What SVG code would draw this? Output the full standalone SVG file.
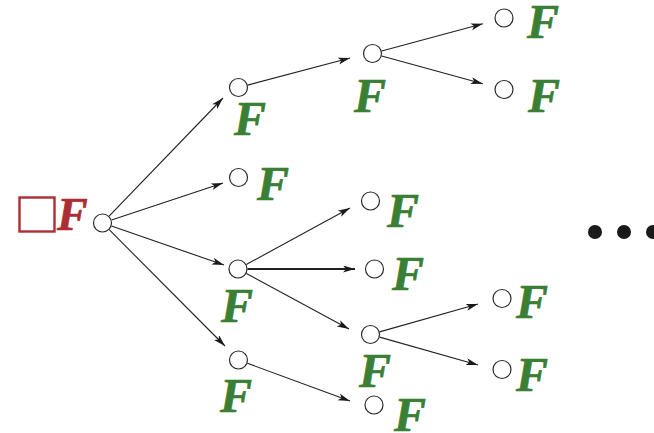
<svg xmlns="http://www.w3.org/2000/svg" width="654" height="433" viewBox="0 0 654 433">
  <style>
    .node { fill: #ffffff; stroke: #2a2a2a; stroke-width: 1.2; }
    .edge { stroke: #222222; stroke-width: 1.1; fill: none; marker-end: url(#arrow); }
    .edge.thick { stroke-width: 2.2; }
    .lbl { font-family: "Liberation Serif", "Times New Roman", serif; font-weight: bold; font-style: italic; font-size: 48px; fill: #3a7f34; stroke: #3a7f34; stroke-width: 0.7; }
    .root-lbl { fill: #ab2e34; stroke: #ab2e34; font-size: 46px; }
    .dot { fill: #1a1a1a; }
  </style>
  <defs>
    <marker id="arrow" markerUnits="userSpaceOnUse" markerWidth="12" markerHeight="8" refX="12" refY="3.5" orient="auto">
      <path d="M0,0 L12,3.5 L0,7 L3,3.5 z" fill="#1a1a1a"/>
    </marker>
  </defs>

  <rect x="0" y="0" width="654" height="433" fill="#ffffff"/>

  <g id="connectors">
    <line class="edge" x1="109.1" y1="216.2" x2="223" y2="98"/>
    <line class="edge" x1="111.5" y1="220" x2="223" y2="183"/>
    <line class="edge" x1="111.5" y1="226.1" x2="224" y2="265"/>
    <line class="edge" x1="109.2" y1="229.7" x2="225" y2="346"/>
    <line class="edge" x1="247.7" y1="85.1" x2="350" y2="58"/>
    <line class="edge" x1="381.7" y1="51" x2="482.8" y2="23.7"/>
    <line class="edge" x1="381.7" y1="56" x2="482.8" y2="83.7"/>
    <line class="edge" x1="246.3" y1="264.5" x2="350" y2="208"/>
    <line class="edge thick" x1="247.5" y1="269" x2="355" y2="269"/>
    <line class="edge" x1="246.4" y1="273.5" x2="349" y2="329"/>
    <line class="edge" x1="247.4" y1="363.3" x2="350" y2="401"/>
    <line class="edge" x1="379.6" y1="331.9" x2="478" y2="304"/>
    <line class="edge" x1="379.6" y1="337.1" x2="478" y2="365"/>
  </g>

  <g id="root">
    <rect x="19.5" y="197.5" width="35" height="34" fill="none" stroke="#ab2e34" stroke-width="2.4"/>
    <text class="lbl root-lbl" x="57" y="230">F</text>
    <circle class="node" cx="102.5" cy="223" r="9"/>
  </g>

  <g id="n-a">
    <circle class="node" cx="238.5" cy="87.5" r="9"/>
    <text class="lbl" x="234" y="135">F</text>
  </g>
  <g id="n-b">
    <circle class="node" cx="238.5" cy="177.5" r="9"/>
    <text class="lbl" x="257" y="200">F</text>
  </g>
  <g id="n-c">
    <circle class="node" cx="238" cy="269" r="9"/>
    <text class="lbl" x="221" y="322">F</text>
  </g>
  <g id="n-d">
    <circle class="node" cx="238.5" cy="360" r="9"/>
    <text class="lbl" x="220" y="412">F</text>
  </g>
  <g id="n-e">
    <circle class="node" cx="372.5" cy="53.5" r="9"/>
    <text class="lbl" x="354" y="112">F</text>
  </g>
  <g id="n-g">
    <circle class="node" cx="370.5" cy="201" r="9"/>
    <text class="lbl" x="387" y="227">F</text>
  </g>
  <g id="n-h">
    <circle class="node" cx="374.5" cy="269" r="9"/>
    <text class="lbl" x="392" y="290">F</text>
  </g>
  <g id="n-i">
    <circle class="node" cx="370.5" cy="334.5" r="9"/>
    <text class="lbl" x="359" y="387">F</text>
  </g>
  <g id="n-j">
    <circle class="node" cx="374" cy="405" r="9"/>
    <text class="lbl" x="394" y="431">F</text>
  </g>
  <g id="n-k">
    <circle class="node" cx="504" cy="18" r="9"/>
    <text class="lbl" x="527" y="38">F</text>
  </g>
  <g id="n-l">
    <circle class="node" cx="504" cy="89.5" r="9"/>
    <text class="lbl" x="528" y="112">F</text>
  </g>
  <g id="n-m">
    <circle class="node" cx="502" cy="298.5" r="9"/>
    <text class="lbl" x="516" y="318">F</text>
  </g>
  <g id="n-n">
    <circle class="node" cx="502" cy="369.5" r="9"/>
    <text class="lbl" x="516" y="391">F</text>
  </g>

  <g id="ellipsis">
    <circle class="dot" cx="595" cy="232" r="7"/>
    <circle class="dot" cx="624" cy="232" r="7"/>
    <circle class="dot" cx="653" cy="232" r="7"/>
  </g>
</svg>
